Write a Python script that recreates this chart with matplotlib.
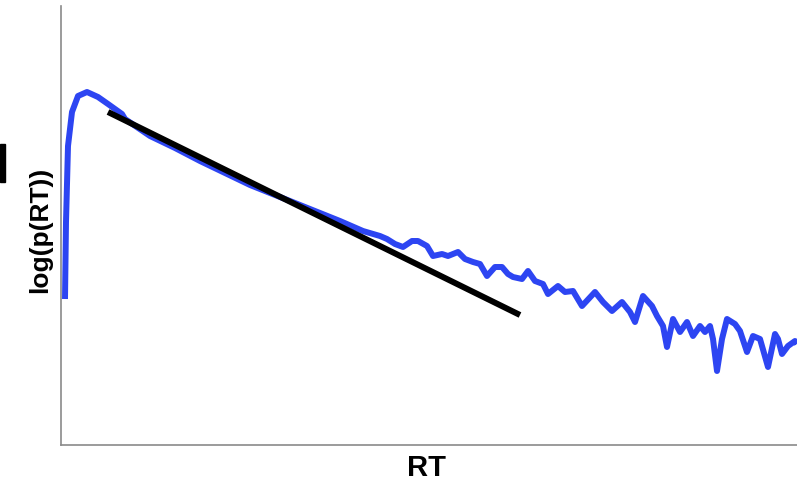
import matplotlib

matplotlib.use("Agg")
from matplotlib import pyplot as plt
from matplotlib.patches import Rectangle

plt.rcParams["font.family"] = ["Liberation Sans", "DejaVu Sans"]

# ----------------------
# Data
# ----------------------

# empirical RT distribution, log density
rt = [8, 10, 14, 22, 34, 52, 74, 94, 122, 128, 178, 228, 278, 328, 378, 428,
      478, 518, 558, 604, 638, 652, 668, 684, 702, 714, 732, 744, 762, 774,
      794, 808, 824, 838, 852, 868, 882, 894, 904, 922, 934, 948, 964, 974,
      994, 1008, 1024, 1042, 1068, 1084, 1102, 1122, 1138, 1148, 1164, 1182,
      1192, 1204, 1212, 1224, 1238, 1252, 1264, 1278, 1288, 1298, 1304, 1312,
      1322, 1332, 1348, 1358, 1372, 1384, 1398, 1414, 1428, 1434, 1442, 1454,
      1468, 1472]
logp = [-6.00, -4.46, -2.94, -2.26, -1.94, -1.86, -1.96, -2.10, -2.30, -2.40,
        -2.74, -2.98, -3.24, -3.48, -3.72, -3.92, -4.12, -4.28, -4.44, -4.64,
        -4.74, -4.80, -4.90, -4.96, -4.84, -4.84, -4.94, -5.14, -5.10, -5.14,
        -5.06, -5.20, -5.26, -5.30, -5.54, -5.36, -5.36, -5.50, -5.56, -5.60,
        -5.44, -5.64, -5.70, -5.90, -5.74, -5.86, -5.84, -6.14, -5.86, -6.06,
        -6.24, -6.06, -6.26, -6.46, -5.94, -6.14, -6.34, -6.54, -6.96, -6.40,
        -6.66, -6.46, -6.74, -6.54, -6.66, -6.54, -6.80, -7.44, -6.80, -6.40,
        -6.50, -6.64, -7.06, -6.74, -6.80, -7.36, -6.70, -6.80, -7.10, -6.94,
        -6.84, -6.90]

# exponential tail fit
fit_rt = [94, 918]
fit_logp = [-2.26, -6.32]


# ---------------------------------
# Plotting
# ---------------------------------

fig = plt.figure(figsize=(7.97, 4.85), dpi=100)
ax = fig.add_axes([61 / 797, 39 / 485, 736 / 797, 439 / 485])

ax.plot(rt, logp, color="#2d45f2", lw=4.3, solid_joinstyle="round",
        solid_capstyle="butt")
ax.plot(fit_rt, fit_logp, color="k", lw=4.3, solid_capstyle="butt")

ax.set_xlim(0, 1472)
ax.set_ylim(-8.92, -0.14)
ax.set_xticks([])
ax.set_yticks([])
for side in ["top", "right"]:
    ax.spines[side].set_visible(False)
for side in ["left", "bottom"]:
    ax.spines[side].set_color("#8a8a8a")
    ax.spines[side].set_linewidth(1.2)

ax.set_xlabel("RT", fontsize=21, fontweight="bold")
ax.xaxis.set_label_coords(0.497, -0.018)
ax.set_ylabel("log(p(RT))", fontsize=19, fontweight="bold")
ax.yaxis.set_label_coords(-0.012, 0.492)

# cut-off mark at the left edge of the original figure
fig.patches.append(Rectangle((0, (485 - 183) / 485), 5 / 797, 38 / 485,
                             transform=fig.transFigure, color="k"))

fig.savefig("out.png", dpi=100)
